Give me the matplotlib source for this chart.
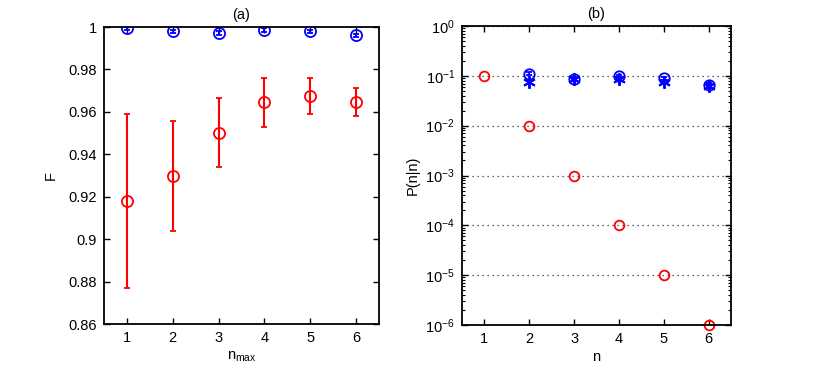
import matplotlib
matplotlib.use("Agg")
import matplotlib.pyplot as plt
import numpy as np

plt.rcParams['font.family'] = ['Liberation Sans', 'DejaVu Sans']
plt.rcParams['font.size'] = 10.5
plt.rcParams['mathtext.fontset'] = 'custom'
plt.rcParams['mathtext.rm'] = 'Liberation Sans'

# panel (a)
nmax = [1, 2, 3, 4, 5, 6]
f_red = [0.918, 0.930, 0.950, 0.9645, 0.9675, 0.9645]
f_red_lo = [0.877, 0.904, 0.934, 0.953, 0.959, 0.958]
f_red_hi = [0.959, 0.9555, 0.9665, 0.976, 0.976, 0.9713]
f_blue = [0.9993, 0.998, 0.9972, 0.9985, 0.998, 0.996]
f_blue_err = [0.0008, 0.0008, 0.0008, 0.0008, 0.0008, 0.0008]

# panel (b)
n = [1, 2, 3, 4, 5, 6]
p_red = [1e-1, 1e-2, 1e-3, 1e-4, 1e-5, 1e-6]
n_blue = [2, 3, 4, 5, 6]
p_blue_circ = [0.111, 0.088, 0.097, 0.089, 0.066]
p_blue_star = [0.076, 0.086, 0.087, 0.076, 0.063]
p_blue_err = [0.006, 0.006, 0.006, 0.006, 0.005]

fig = plt.figure(figsize=(8.3, 3.75), dpi=100)
ax1 = fig.add_axes([104/830, 1-324/375, 275/830, 297/375])
ax2 = fig.add_axes([462/830, 1-325/375, 269/830, 299/375])

red_err = [np.array(f_red) - np.array(f_red_lo), np.array(f_red_hi) - np.array(f_red)]
ax1.errorbar(nmax, f_red, yerr=red_err, fmt='o', color='red', mfc='none',
             ms=8, mew=1.3, elinewidth=1.5, capsize=2.5, capthick=1.5)
ax1.errorbar(nmax, f_blue, yerr=f_blue_err, fmt='o', color='blue', mfc='none',
             ms=8, mew=1.3, elinewidth=1.5, capsize=2.5, capthick=1.5)
ax1.set_xlim(0.5, 6.5)
ax1.set_ylim(0.86, 1.0)
ax1.set_xticks(nmax)
ax1.set_yticks([0.86, 0.88, 0.9, 0.92, 0.94, 0.96, 0.98, 1])
ax1.set_yticklabels(['0.86', '0.88', '0.9', '0.92', '0.94', '0.96', '0.98', '1'])
ax1.set_xlabel(r'n$_{\mathrm{max}}$', labelpad=3)
ax1.set_ylabel('F', labelpad=8)
ax1.set_title('(a)', fontsize=10.5, pad=6)

ax2.set_yscale('log')
ax2.plot(n, p_red, 'o', color='red', mfc='none', ms=7, mew=1.3, clip_on=False)
ax2.errorbar(n_blue, p_blue_circ, yerr=p_blue_err, fmt='o', color='blue', mfc='none',
             ms=7.5, mew=1.3, elinewidth=1.3, capsize=2, capthick=1.3)
ax2.errorbar(n_blue, p_blue_star, yerr=p_blue_err, fmt='none', ecolor='blue',
             elinewidth=1.3, capsize=2, capthick=1.3)
ax2.plot(n_blue, p_blue_star, linestyle='none', marker=(6, 2, 0), color='blue',
         ms=9, mew=1.4)
ax2.set_xlim(0.5, 6.5)
ax2.set_ylim(1e-6, 1)
ax2.set_xticks(n)
ax2.set_yticks([1e-6, 1e-5, 1e-4, 1e-3, 1e-2, 1e-1, 1])
ax2.yaxis.grid(True, which='major', linestyle=(0, (1, 3)), color='0.2', linewidth=0.9)
ax2.set_xlabel('n', labelpad=3)
ax2.set_ylabel('P(n|n)')
ax2.set_title('(b)', fontsize=10.5, pad=6)

for ax in (ax1, ax2):
    ax.tick_params(which='both', direction='in', top=True, right=True)
    ax.tick_params(which='major', length=4, width=1, pad=5)
    ax.tick_params(which='minor', length=2, width=0.8)
    for s in ax.spines.values():
        s.set_linewidth(1.3)

fig.savefig('out.png', dpi=100)
